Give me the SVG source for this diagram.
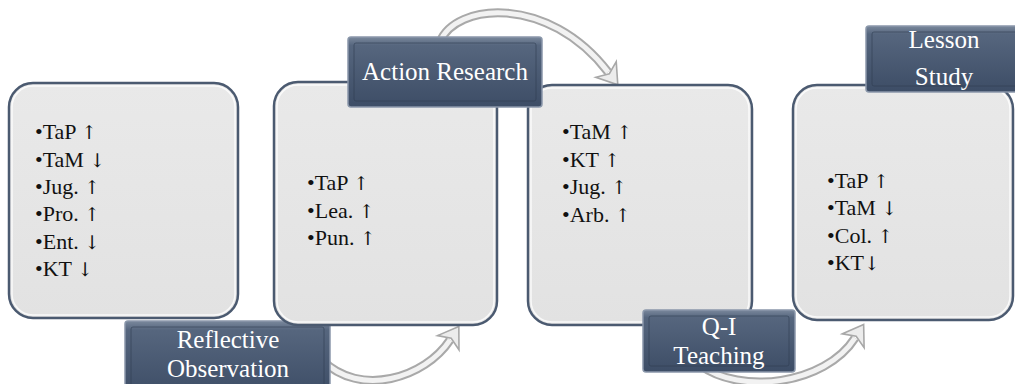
<svg xmlns="http://www.w3.org/2000/svg" width="1015" height="384" viewBox="0 0 1015 384">
<defs>
<linearGradient id="lblGrad" x1="0" y1="0" x2="0" y2="1">
<stop offset="0" stop-color="#7a889c"/>
<stop offset="0.12" stop-color="#56667e"/>
<stop offset="1" stop-color="#3d4d66"/>
</linearGradient>
<linearGradient id="boxGrad" x1="0" y1="0" x2="0" y2="1">
<stop offset="0" stop-color="#e9e9e9"/>
<stop offset="1" stop-color="#e2e2e2"/>
</linearGradient>
<marker id="ah" markerUnits="userSpaceOnUse" markerWidth="30" markerHeight="30" refX="3" refY="0" viewBox="-2 -14 24 28" orient="auto">
<path d="M0,-12 L18,0 L0,12 L5,0 Z" fill="#ececec" stroke="#a8a8a8" stroke-width="1.5"/>
</marker>
<style>
.box{fill:url(#boxGrad);stroke:#4b5a70;stroke-width:2.5}
.boxin{fill:none;stroke:#ffffff;stroke-width:1.5;opacity:0.8}
.lbl{fill:url(#lblGrad);stroke:#8a97aa;stroke-width:1.5}
.lblin{fill:none;stroke:#2f3d52;stroke-width:1;opacity:0.6}
.bt{font-size:22px;fill:#111}
.lt{font-size:25px;fill:#ffffff;text-anchor:middle}
.ar{font-family:'DejaVu Serif',serif;font-size:19px}
.arO{fill:none;stroke:#a9a9a9;stroke-width:9;stroke-linecap:butt}
.arI{fill:none;stroke:#f2f2f2;stroke-width:5}
</style>
</defs>
<rect width="1015" height="384" fill="#ffffff"/>

<g id="connectors">
<path class="arO" d="M322,360 C360,398 425,378 450,340" marker-end="url(#ah)"/>
<path class="arI" d="M322,360 C360,398 425,378 450,340"/>
<path class="arO" d="M440,42 C455,3 548,-6 608,72" marker-end="url(#ah)"/>
<path class="arI" d="M440,42 C455,3 548,-6 608,72"/>
<path class="arO" d="M700,365 C740,395 825,385 855,338" marker-end="url(#ah)"/>
<path class="arI" d="M700,365 C740,395 825,385 855,338"/>
</g>

<g id="node-reflective" font-family="Liberation Serif, Times New Roman, DejaVu Serif, serif">
<rect class="box" x="9" y="83" width="229" height="235" rx="24"/>
<rect class="boxin" x="12" y="86" width="223" height="229" rx="21"/>
<text class="bt" x="35" y="139">•TaP <tspan class="ar">↑</tspan></text>
<text class="bt" x="35" y="167">•TaM <tspan class="ar">↓</tspan></text>
<text class="bt" x="35" y="194">•Jug. <tspan class="ar">↑</tspan></text>
<text class="bt" x="35" y="221">•Pro. <tspan class="ar">↑</tspan></text>
<text class="bt" x="35" y="249">•Ent. <tspan class="ar">↓</tspan></text>
<text class="bt" x="35" y="276">•KT <tspan class="ar">↓</tspan></text>
<rect class="lbl" x="125" y="321" width="205" height="75" rx="3"/>
<rect class="lblin" x="131" y="327" width="193" height="63" rx="2"/>
<text class="lt" x="228" y="348">Reflective</text>
<text class="lt" x="228" y="377">Observation</text>
</g>

<g id="node-action" font-family="Liberation Serif, Times New Roman, DejaVu Serif, serif">
<rect class="box" x="274" y="82" width="223" height="243" rx="24"/>
<rect class="boxin" x="277" y="85" width="217" height="237" rx="21"/>
<text class="bt" x="307" y="190">•TaP <tspan class="ar">↑</tspan></text>
<text class="bt" x="307" y="218">•Lea. <tspan class="ar">↑</tspan></text>
<text class="bt" x="307" y="245">•Pun. <tspan class="ar">↑</tspan></text>
</g>

<g id="node-qi" font-family="Liberation Serif, Times New Roman, DejaVu Serif, serif">
<rect class="box" x="528" y="85" width="224" height="240" rx="24"/>
<rect class="boxin" x="531" y="88" width="218" height="234" rx="21"/>
<text class="bt" x="562" y="139">•TaM <tspan class="ar">↑</tspan></text>
<text class="bt" x="562" y="167">•KT <tspan class="ar">↑</tspan></text>
<text class="bt" x="562" y="194">•Jug. <tspan class="ar">↑</tspan></text>
<text class="bt" x="562" y="222">•Arb. <tspan class="ar">↑</tspan></text>
<rect class="lbl" x="643" y="310" width="152" height="62" rx="3"/>
<rect class="lblin" x="649" y="316" width="140" height="50" rx="2"/>
<text class="lt" x="719" y="335">Q-I</text>
<text class="lt" x="719" y="364">Teaching</text>
</g>

<g id="node-action-label" font-family="Liberation Serif, Times New Roman, DejaVu Serif, serif">
<rect class="lbl" x="348" y="37" width="194" height="70" rx="3"/>
<rect class="lblin" x="354" y="43" width="182" height="58" rx="2"/>
<text class="lt" x="445" y="80">Action Research</text>
</g>

<g id="node-lesson" font-family="Liberation Serif, Times New Roman, DejaVu Serif, serif">
<rect class="box" x="793" y="85" width="220" height="235" rx="24"/>
<rect class="boxin" x="796" y="88" width="214" height="229" rx="21"/>
<text class="bt" x="827" y="188">•TaP <tspan class="ar">↑</tspan></text>
<text class="bt" x="827" y="215">•TaM <tspan class="ar">↓</tspan></text>
<text class="bt" x="827" y="243">•Col. <tspan class="ar">↑</tspan></text>
<text class="bt" x="827" y="270">•KT<tspan class="ar">↓</tspan></text>
<rect class="lbl" x="866" y="26" width="160" height="66" rx="3"/>
<rect class="lblin" x="872" y="32" width="148" height="54" rx="2"/>
<text class="lt" x="944" y="48">Lesson</text>
<text class="lt" x="944" y="85">Study</text>
</g>
</svg>
